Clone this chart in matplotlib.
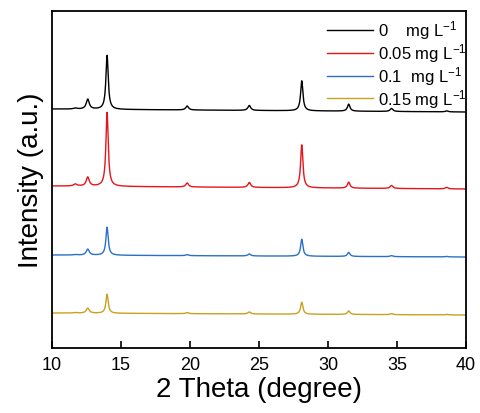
import numpy as np
import matplotlib
matplotlib.use("Agg")
import matplotlib.pyplot as plt

plt.rcParams['font.family'] = ['Liberation Sans', 'DejaVu Sans']
plt.rcParams['mathtext.fontset'] = 'custom'
plt.rcParams['mathtext.rm'] = 'Liberation Sans'
plt.rcParams['mathtext.it'] = 'Liberation Sans:italic'
plt.rcParams['mathtext.bf'] = 'Liberation Sans:bold'

# ---- data ----
labels = ["0    mg L$^{-1}$", "0.05 mg L$^{-1}$", "0.1  mg L$^{-1}$", "0.15 mg L$^{-1}$"]
colors = ["#000000", "#e8141c", "#2a6fcc", "#c9a020"]

# baseline at 2theta=10 and at 2theta=40 (arbitrary units)
base_left = [239, 162, 93, 35]
base_right = [236, 159, 91, 33]

peak_pos = [11.7, 12.6, 14.0, 19.8, 24.3, 28.1, 31.5, 34.6, 38.6]
peak_width = [0.15, 0.13, 0.10, 0.12, 0.12, 0.10, 0.11, 0.12, 0.12]
peak_h_black = [1, 10, 54, 4, 5, 30, 7, 3, 1]
peak_h_red = [2, 9, 74, 4, 5, 43, 6, 3, 1.5]
peak_h_blue = [0.5, 6, 28, 1, 2, 17, 4, 1, 0.5]
peak_h_gold = [0.5, 5, 19, 1, 2, 12, 3.5, 1, 0.5]
heights = [peak_h_black, peak_h_red, peak_h_blue, peak_h_gold]

x_ticks = [10, 15, 20, 25, 30, 35, 40]

two_theta = np.linspace(10, 40, 3001)


def pattern(b0, b1, hs):
    y = b0 + (b1 - b0) * (two_theta - 10) / 30.0
    for p, w, h in zip(peak_pos, peak_width, hs):
        y = y + h / (1 + ((two_theta - p) / w) ** 2)
    return y


fig = plt.figure(figsize=(4.8, 4.14), dpi=100)
ax = fig.add_axes([0.108, 0.157, 0.863, 0.814])

for lab, c, b0, b1, hs in zip(labels, colors, base_left, base_right, heights):
    ax.plot(two_theta, pattern(b0, b1, hs), color=c, lw=1.0, label=lab)

ax.set_xlim(10, 40)
ax.set_ylim(0, 337)
ax.set_xticks(x_ticks)
ax.set_yticks([])
ax.tick_params(axis='x', direction='in', length=5, width=1.2, labelsize=13, pad=6)
for s in ax.spines.values():
    s.set_linewidth(1.3)

ax.set_xlabel("2 Theta (degree)", fontsize=20, labelpad=2)
ax.set_ylabel("Intensity (a.u.)", fontsize=20, labelpad=6)

leg = ax.legend(loc='upper right', bbox_to_anchor=(1.025, 1.008), frameon=False,
                fontsize=12, handlelength=2.8, handletextpad=0.25,
                labelspacing=0.0, borderaxespad=0.2)

fig.savefig("out.png", dpi=100)
